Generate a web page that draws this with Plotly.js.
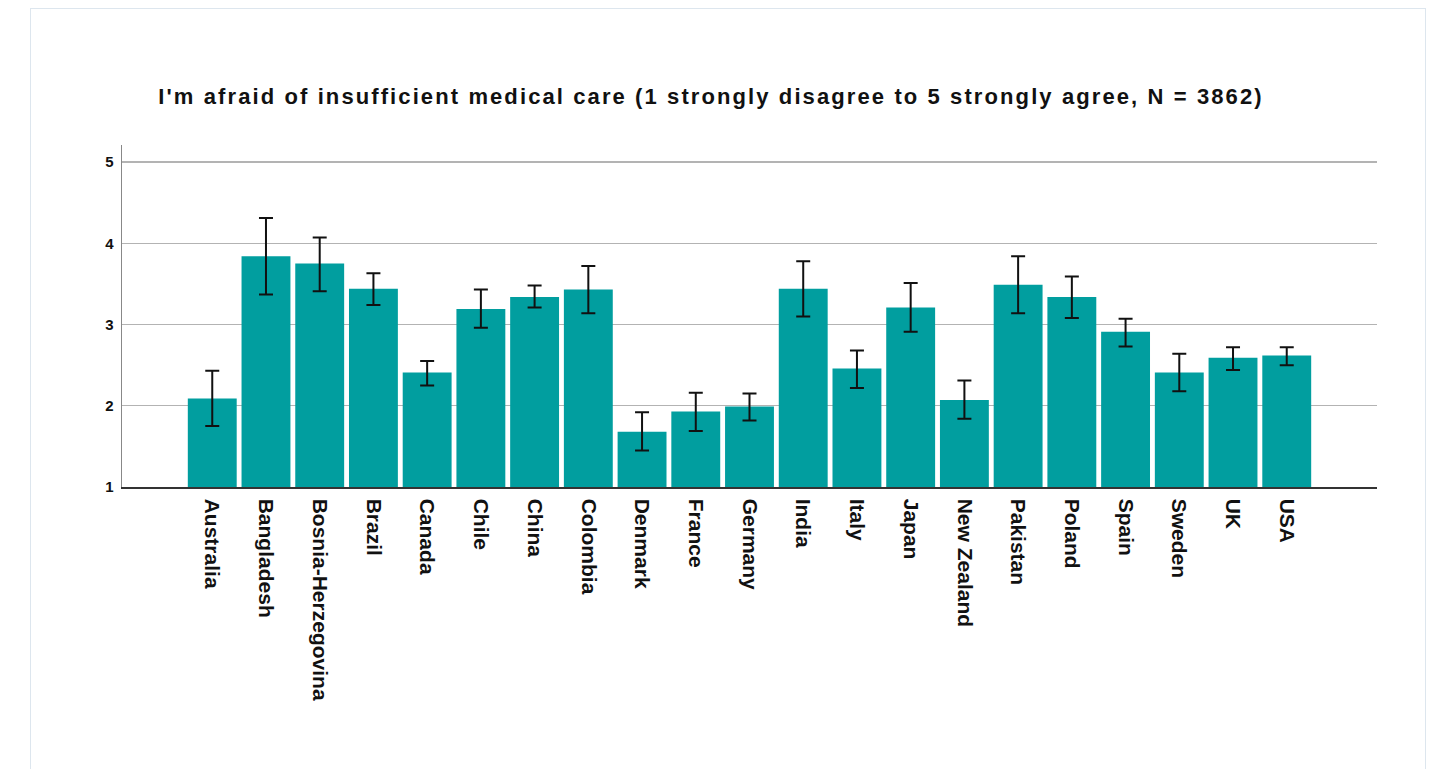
<!DOCTYPE html>
<html>
<head>
<meta charset="utf-8">
<script src="https://cdn.plot.ly/plotly-3.0.1.min.js"></script>
<style>
html,body{margin:0;padding:0;background:#fff;overflow:hidden;}
#chart{width:1433px;height:769px;}
#chart .gtitle{letter-spacing:2.1px;}
#frame{position:absolute;left:30px;top:8px;width:1394px;height:800px;border:1.5px solid #dde6ee;pointer-events:none;}
</style>
</head>
<body>
<div id="chart"></div>
<div id="frame"></div>
<script>
const countries = ["Australia","Bangladesh","Bosnia-Herzegovina","Brazil","Canada","Chile","China","Colombia","Denmark","France","Germany","India","Italy","Japan","New Zealand","Pakistan","Poland","Spain","Sweden","UK","USA"];
const means = [2.09,3.84,3.75,3.44,2.41,3.19,3.34,3.43,1.68,1.93,1.99,3.44,2.46,3.21,2.07,3.49,3.34,2.91,2.41,2.59,2.62];
const upper = [2.43,4.31,4.07,3.63,2.55,3.43,3.48,3.72,1.92,2.16,2.15,3.78,2.68,3.51,2.31,3.84,3.59,3.07,2.64,2.72,2.72];
const lower = [1.75,3.37,3.41,3.24,2.25,2.96,3.21,3.14,1.45,1.69,1.82,3.10,2.22,2.91,1.84,3.14,3.08,2.73,2.18,2.44,2.50];
const yTicks = [1,2,3,4,5];

const errPlus = upper.map((u,i)=>+(u-means[i]).toFixed(3));
const errMinus = lower.map((l,i)=>+(means[i]-l).toFixed(3));

// bars start at the axis floor (1) and reach the mean
const trace = {
  type:'bar',
  x: countries,
  y: means.map(v=>v-1),
  base: 1,
  marker:{color:'#019e9f'},
  error_y:{type:'data',symmetric:false,array:errPlus,arrayminus:errMinus,color:'#111',thickness:2,width:7},
  hoverinfo:'x+y'
};

const layout = {
  width:1433,height:769,
  margin:{l:122,r:56,t:145,b:282,pad:0},
  paper_bgcolor:'#fff',plot_bgcolor:'#fff',
  showlegend:false,
  bargap:0.09,
  title:{text:"I'm afraid of insufficient medical care (1 strongly disagree to 5 strongly agree, N = 3862)",
    font:{family:'Liberation Sans, Arial, sans-serif',size:22,color:'#111',weight:'bold'},
    x:711/1433,xanchor:'center',xref:'container',y:1-96/769,yanchor:'middle',yref:'container'},
  xaxis:{type:'category',range:[-1.68,21.68],tickangle:90,automargin:false,
    tickfont:{family:'Liberation Sans, Arial, sans-serif',size:21,color:'#111',weight:'bold'},
    showline:true,linecolor:'#333',linewidth:1.5,ticks:'',showgrid:false,zeroline:false,ticklabelstandoff:6},
  yaxis:{range:[1,5.21],tickvals:yTicks,ticktext:yTicks.map(String),automargin:false,
    tickfont:{family:'Liberation Sans, Arial, sans-serif',size:15,color:'#111',weight:'bold'},
    showline:true,linecolor:'#888',linewidth:1.5,ticks:'',showgrid:true,gridcolor:'#b3b3b3',gridwidth:1.3,zeroline:false,ticklabelstandoff:4}
};
Plotly.newPlot('chart',[trace],layout,{displayModeBar:false,staticPlot:true});
</script>
</body>
</html>
